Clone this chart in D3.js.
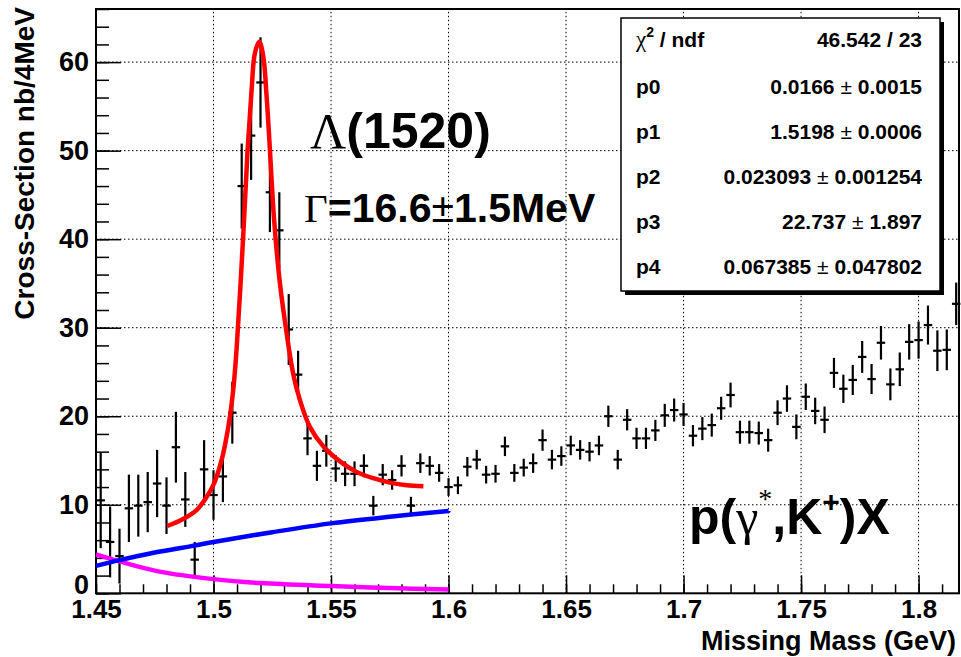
<!DOCTYPE html>
<html>
<head>
<meta charset="utf-8">
<script src="https://cdn.jsdelivr.net/npm/d3@7"></script>
<style>
  body { margin: 0; background: #fff; }
  svg { display: block; font-family: "Liberation Sans", Arial, sans-serif; }
</style>
</head>
<body>
<script>
// histogram: 4 MeV bins (centres), cross-section and its error
const massBins = [
  1.452,1.456,1.460,1.464,1.468,1.472,1.476,1.480,1.484,1.488,
  1.492,1.496,1.500,1.504,1.508,1.512,1.516,1.520,1.524,1.528,
  1.532,1.536,1.540,1.544,1.548,1.552,1.556,1.560,1.564,1.568,
  1.572,1.576,1.580,1.584,1.588,1.592,1.596,1.600,1.604,1.608,
  1.612,1.616,1.620,1.624,1.628,1.632,1.636,1.640,1.644,1.648,
  1.652,1.656,1.660,1.664,1.668,1.672,1.676,1.680,1.684,1.688,
  1.692,1.696,1.700,1.704,1.708,1.712,1.716,1.720,1.724,1.728,
  1.732,1.736,1.740,1.744,1.748,1.752,1.756,1.760,1.764,1.768,
  1.772,1.776,1.780,1.784,1.788,1.792,1.796,1.800,1.804,1.808,
  1.812,1.816];
const xsec = [
  10.5,5.8,4.2,9.6,9.9,10.3,12.4,9.9,16.5,10.6,
  3.8,14.0,11.1,13.2,20.4,46.0,51.7,57.7,45.3,41.0,
  29.8,24.7,17.5,14.4,16.1,14.1,13.5,13.5,14.4,9.9,
  13.4,12.8,14.4,9.9,14.7,14.4,13.6,12.0,12.2,14.3,
  15.1,13.4,13.5,16.6,13.6,14.2,14.7,17.3,15.1,15.5,
  16.7,16.2,16.0,16.7,20.0,15.1,19.6,17.5,17.5,18.4,
  20.1,20.7,20.2,17.8,18.6,19.0,20.9,22.4,18.2,18.2,
  18.1,17.3,20.4,22.0,18.8,22.2,20.6,19.6,24.9,23.1,
  24.1,26.7,24.2,28.3,23.6,25.3,28.4,28.6,30.3,27.4,
  27.5,32.7];
const xsecErr = [
  5.4,4.0,3.1,3.8,3.5,3.4,3.8,3.2,4.0,3.1,
  2.0,3.3,2.8,2.9,3.5,4.8,5.0,5.1,4.5,4.3,
  4.0,2.7,1.9,1.7,1.8,1.5,1.4,1.4,1.3,1.1,
  1.2,1.1,1.2,1.0,1.1,1.1,1.0,1.0,1.0,1.1,
  1.1,1.0,1.0,1.1,1.0,1.0,1.1,1.2,1.1,1.1,
  1.1,1.1,1.1,1.1,1.2,1.1,1.2,1.2,1.2,1.2,
  1.3,1.3,1.3,1.2,1.3,1.3,1.3,1.4,1.3,1.3,
  1.3,1.3,1.4,1.5,1.4,1.5,1.5,1.5,1.7,1.6,
  1.7,1.8,1.7,1.9,1.8,1.9,2.0,2.1,2.2,2.3,
  2.3,2.4];

// fit curves
const fitMass = [1.4803,1.4871,1.4928,1.4971,1.5002,1.5035,1.5063,1.5084,1.5099,1.5127,1.5145,1.5162,1.5176,1.5195,
  1.5212,1.5226,1.5240,1.5257,1.5281,1.5311,1.5339,1.5368,1.5410,1.5467,1.5538,1.5609,1.5680,1.5751,1.5822,1.5893];
const fitXsec = [7.6,8.4,9.4,10.9,12.4,15.1,18.8,23.0,27.9,40.7,50.1,56.8,61.0,62.3,
  60.6,56.1,50.1,42.5,35.4,29.4,24.8,21.8,18.8,16.6,14.9,13.7,13.0,12.5,12.2,12.1];
const bgMass = [1.45,1.46,1.475,1.49,1.5,1.525,1.55,1.575,1.6];
const bgXsec = [3.1,3.75,4.6,5.3,5.8,6.9,7.9,8.65,9.3];
const tailMass = [1.45,1.46,1.477,1.5,1.52,1.55,1.575,1.6];
const tailXsec = [4.4,3.6,2.45,1.6,1.15,0.82,0.6,0.42];

const xMajorTicks = [1.45,1.5,1.55,1.6,1.65,1.7,1.75,1.8];
const yMajorTicks = [0,10,20,30,40,50,60];

const statRows = [
  ["p0", "0.0166", "0.0015"],
  ["p1", "1.5198", "0.0006"],
  ["p2", "0.023093", "0.001254"],
  ["p3", "22.737", "1.897"],
  ["p4", "0.067385", "0.047802"]
];
const chi2ndf = "46.542 / 23";

const width = 961, height = 657;

const x = d3.scaleLinear().domain([1.45, 1.8172]).range([96, 959]);
const y = d3.scaleLinear().domain([0, 66]).range([593.3, 9]);

const svg = d3.select("body").append("svg")
    .attr("width", width)
    .attr("height", height)
    .attr("viewBox", [0, 0, width, height]);

svg.append("rect").attr("width", width).attr("height", height).attr("fill", "#fff");

// dotted grid
const grid = svg.append("g")
    .attr("stroke", "#000")
    .attr("stroke-width", 1)
    .attr("stroke-dasharray", "1.5,2.5");
grid.selectAll("line.gx")
  .data(xMajorTicks.slice(1))
  .join("line")
    .attr("x1", d => x(d)).attr("x2", d => x(d))
    .attr("y1", y(0)).attr("y2", y(66));
grid.selectAll("line.gy")
  .data(yMajorTicks.slice(1))
  .join("line")
    .attr("class", "gy")
    .attr("x1", x(1.45)).attr("x2", x(1.8172))
    .attr("y1", d => y(d)).attr("y2", d => y(d));

// axes (ticks pointing inside)
const xMinor = d3.range(145, 182).map(d => d / 100);
const yMinor = d3.range(0, 67, 2);

svg.append("g")
    .attr("transform", `translate(0,${y(0)})`)
    .call(d3.axisBottom(x).tickValues(xMinor).tickSize(-9).tickFormat(""))
    .call(g => g.select(".domain").remove())
    .call(g => g.selectAll("line").attr("stroke-width", 1.5));

svg.append("g")
    .attr("transform", `translate(0,${y(0)})`)
    .call(d3.axisBottom(x).tickValues(xMajorTicks).tickSize(-18).tickPadding(6)
      .tickFormat(d => String(+d.toFixed(2))))
    .call(g => g.select(".domain").remove())
    .call(g => g.selectAll("line").attr("stroke-width", 1.5))
    .attr("font-family", null)
    .attr("font-size", 26)
    .attr("font-weight", "bold");

svg.append("g")
    .attr("transform", `translate(${x(1.45)},0)`)
    .call(d3.axisLeft(y).tickValues(yMinor).tickSize(-13).tickFormat(""))
    .call(g => g.select(".domain").remove())
    .call(g => g.selectAll("line").attr("stroke-width", 1.5));

svg.append("g")
    .attr("transform", `translate(${x(1.45)},0)`)
    .call(d3.axisLeft(y).tickValues(yMajorTicks).tickSize(-25).tickPadding(7))
    .call(g => g.select(".domain").remove())
    .call(g => g.selectAll("line").attr("stroke-width", 1.5))
    .call(g => g.selectAll("text").attr("dy", d => d === 0 ? "0.02em" : "0.32em"))
    .attr("font-family", null)
    .attr("font-size", 27)
    .attr("font-weight", "bold");

// frame
svg.append("rect")
    .attr("x", x(1.45)).attr("y", y(66))
    .attr("width", x(1.8172) - x(1.45))
    .attr("height", y(0) - y(66))
    .attr("fill", "none")
    .attr("stroke", "#000")
    .attr("stroke-width", 2);

// data points with error bars
const pts = svg.append("g")
    .attr("stroke", "#000")
    .attr("stroke-width", 2.2)
  .selectAll("g")
  .data(massBins.map((m, i) => ({m, v: xsec[i], e: xsecErr[i]})))
  .join("g");
pts.append("line")
    .attr("x1", d => x(d.m)).attr("x2", d => x(d.m))
    .attr("y1", d => y(Math.max(0, d.v - d.e))).attr("y2", d => y(d.v + d.e));
pts.append("line")
    .attr("x1", d => x(d.m - 0.0018)).attr("x2", d => x(d.m + 0.0018))
    .attr("y1", d => y(d.v)).attr("y2", d => y(d.v));

// fit curves
const curve = d3.line()
    .x(d => x(d[0]))
    .y(d => y(d[1]))
    .curve(d3.curveCatmullRom.alpha(0.5));

svg.append("path")
    .attr("d", curve(tailMass.map((m, i) => [m, tailXsec[i]])))
    .attr("fill", "none").attr("stroke", "#ff00ff").attr("stroke-width", 4.5);
svg.append("path")
    .attr("d", curve(bgMass.map((m, i) => [m, bgXsec[i]])))
    .attr("fill", "none").attr("stroke", "#0000ff").attr("stroke-width", 4.5);
svg.append("path")
    .attr("d", curve(fitMass.map((m, i) => [m, fitXsec[i]])))
    .attr("fill", "none").attr("stroke", "#ff0000").attr("stroke-width", 4.5);

// axis titles
svg.append("text")
    .attr("x", 956).attr("y", 650)
    .attr("text-anchor", "end")
    .attr("font-size", 27).attr("font-weight", "bold")
    .text("Missing Mass (GeV)");

svg.append("text")
    .attr("transform", "translate(34,7) rotate(-90)")
    .attr("text-anchor", "end")
    .attr("font-size", 28).attr("font-weight", "bold")
    .text("Cross-Section nb/4MeV");

// annotations
const serif = "'Liberation Serif', 'Times New Roman', serif";

const lam = svg.append("text")
    .attr("x", 310).attr("y", 148)
    .attr("font-size", 50).attr("font-weight", "bold");
lam.append("tspan").attr("font-family", serif).attr("font-weight", "normal").text("Λ");
lam.append("tspan").text("(1520)");

const gam = svg.append("text")
    .attr("x", 304).attr("y", 222)
    .attr("font-size", 41).attr("font-weight", "bold");
gam.append("tspan").attr("font-family", serif).attr("font-weight", "normal").text("Γ");
gam.append("tspan").text("=16.6");
gam.append("tspan").attr("font-weight", "normal").text("±");
gam.append("tspan").text("1.5MeV");

const reac = svg.append("text")
    .attr("x", 689).attr("y", 534)
    .attr("font-size", 50).attr("font-weight", "bold");
reac.append("tspan").text("p(");
reac.append("tspan").attr("font-family", serif).attr("font-weight", "normal").text("γ");
reac.append("tspan").attr("font-family", serif).attr("font-weight", "normal")
    .attr("font-size", 28).attr("dy", -26).text("*");
reac.append("tspan").attr("dy", 26).text(",K");
reac.append("tspan").attr("font-size", 30).attr("dy", -22).text("+");
reac.append("tspan").attr("dy", 22).text(")X");

// stats box
const box = svg.append("g");
box.append("rect")
    .attr("x", 625).attr("y", 22).attr("width", 319).attr("height", 273)
    .attr("fill", "#000");
box.append("rect")
    .attr("x", 621).attr("y", 18).attr("width", 319).attr("height", 273)
    .attr("fill", "#fff").attr("stroke", "#000").attr("stroke-width", 1.5);

const rowY = [47, 94, 139, 184, 229, 274];
const chi = box.append("text")
    .attr("x", 636).attr("y", rowY[0])
    .attr("font-size", 21).attr("font-weight", "bold");
chi.append("tspan").attr("font-family", serif).attr("font-weight", "normal").attr("font-size", 23).text("χ");
chi.append("tspan").attr("font-size", 14).attr("dy", -10).text("2");
chi.append("tspan").attr("dy", 10).text(" / ndf");
box.append("text")
    .attr("x", 922).attr("y", rowY[0])
    .attr("text-anchor", "end")
    .attr("font-size", 21).attr("font-weight", "bold")
    .text(chi2ndf);

statRows.forEach(([name, val, err], i) => {
  box.append("text")
      .attr("x", 636).attr("y", rowY[i + 1])
      .attr("font-size", 21).attr("font-weight", "bold")
      .text(name);
  const t = box.append("text")
      .attr("x", 922).attr("y", rowY[i + 1])
      .attr("text-anchor", "end")
      .attr("font-size", 21).attr("font-weight", "bold");
  t.append("tspan").text(val + " ");
  t.append("tspan").attr("font-weight", "normal").text("±");
  t.append("tspan").text(" " + err);
});
</script>
</body>
</html>
